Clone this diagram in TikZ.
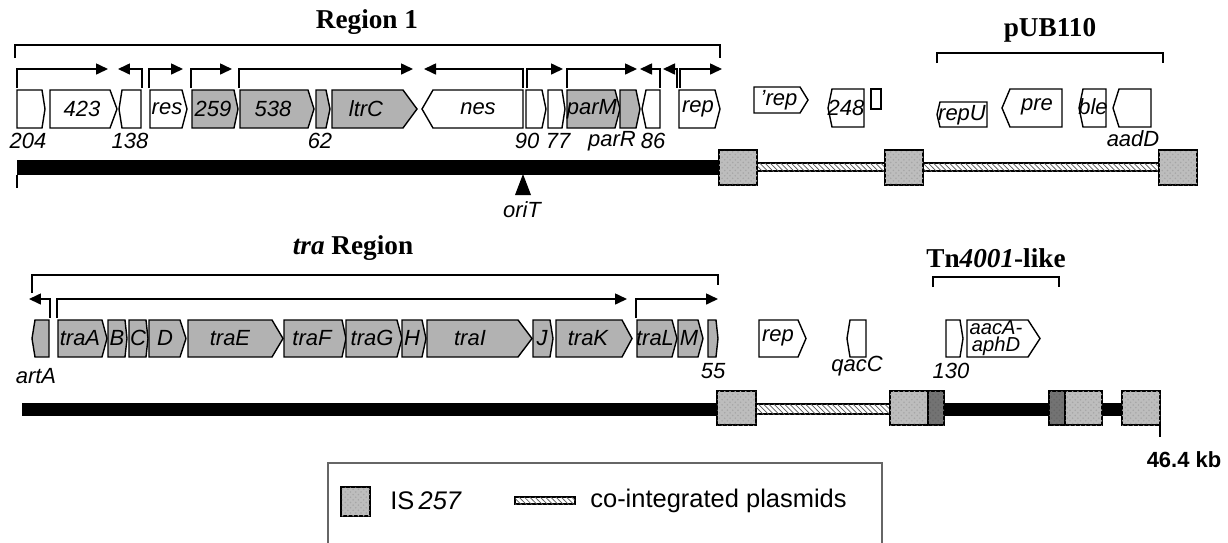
\documentclass[tikz,border=0pt]{standalone}
\usepackage{fontspec}
\setmainfont{Liberation Serif}
\setsansfont{Liberation Sans}
\usetikzlibrary{arrows.meta,patterns}
\definecolor{genegray}{gray}{0.7}
\definecolor{isgray}{gray}{0.74}
\definecolor{isdark}{gray}{0.45}

\begin{document}
\begin{tikzpicture}[
  x=0.02cm,
  y=-0.02cm,
  >={Triangle[length=0.24cm,width=0.22cm]},
  gene/.style={draw, line width=0.8pt, line join=miter},
  glab/.style={font=\sffamily\itshape\fontsize{12.5}{13}\selectfont, inner sep=0pt},
  ttl/.style={font=\bfseries\fontsize{15.5}{17}\selectfont, inner sep=0pt},
  leg/.style={font=\sffamily\fontsize{14.5}{16}\selectfont, inner sep=0pt},
  prom/.style={->, line width=0.9pt},
  brk/.style={line width=1pt},
  isbox/.style={draw, line width=0.6pt, fill=isgray, postaction={pattern=crosshatch dots, pattern color=black!35}},
  isdk/.style={draw, line width=0.6pt, fill=isdark, postaction={pattern=crosshatch dots, pattern color=black!60}},
  coint/.style={draw, line width=0.8pt, fill=white, postaction={pattern=north west lines, pattern color=black!65}}
]
  \useasboundingbox (0,0) rectangle (1228,542);

  \node[ttl] (reg1) at (367,22) {Region 1};
  \node[ttl] (pub) at (1050,30) {pUB110};
  \node[ttl] (tra) at (353,248) {\textit{tra} Region};
  \node[ttl] (tn) at (996,258) {Tn\textit{4001}-like};

  \draw[brk] (15,58) |- (720,45) -- (720,58);
  \draw[brk] (937,63) |- (1163,53) -- (1163,63);
  \draw[brk] (32,293) |- (718,275) -- (718,285);
  \draw[brk] (933,287) |- (1059,277) -- (1059,287);

  \foreach \s/\e in {17/108, 142/118, 149/183, 191/232, 239/413, 523/424, 527/563, 567/637, 660/640, 677/663, 680/722}
    \draw[prom] (\s,88) |- (\e,69);
  \foreach \s/\e in {50/29, 57/627, 636/718}
    \draw[prom] (\s,318) |- (\e,299);

  \foreach \a/\p/\b/\t/\u/\c in {17/42/45/90/128/white, 50/110/117/90/128/white, 150/182/187/90/128/white,
      192/234/238/90/128/genegray, 240/308/314/90/128/genegray, 316/326/330/90/128/genegray,
      332/403/417/90/128/genegray, 526/542/546/90/128/white, 548/562/565/90/128/white,
      567/615/620/90/128/genegray, 620/636/640/90/128/genegray, 679/715/720/90/128/white,
      754/800/808/87/113/white,
      58/102/107/320/357/genegray, 108/125/127/320/357/genegray, 129/146/148/320/357/genegray,
      149/180/186/320/357/genegray, 188/272/283/320/357/genegray, 284/342/346/320/357/genegray,
      346/397/402/320/357/genegray, 402/422/426/320/357/genegray, 427/518/532/320/357/genegray,
      533/550/553/320/357/genegray, 556/622/632/320/357/genegray, 637/672/677/320/357/genegray,
      678/698/703/320/357/genegray, 708/716/718/320/357/genegray,
      759/798/806/320/357/white, 946/960/963/320/357/white, 967/1028/1040/320/357/white}
    \draw[gene, fill=\c] (\a,\t) -- (\p,\t) -- (\b,{(\t+\u)/2}) -- (\p,\u) -- (\a,\u) -- cycle;
  \foreach \a/\p/\b/\t/\u/\c in {119/122/141/90/128/white, 422/433/523/90/128/white, 642/646/660/90/128/white,
      828/832/864/89/127/white, 937/940/987/102/127/white, 1002/1010/1062/89/127/white,
      1079/1083/1106/89/127/white, 1113/1119/1151/89/127/white,
      32/35/49/320/357/genegray, 847/850/866/320/357/white}
    \draw[gene, fill=\c] (\b,\t) -- (\p,\t) -- (\a,{(\t+\u)/2}) -- (\p,\u) -- (\b,\u) -- cycle;
  \draw[gene] (871,89) rectangle (881,109);

  \node[glab] (g204) at (28,141) {204};
  \node[glab] (g423) at (82,109) {423};
  \node[glab] (g138) at (130,141) {138};
  \node[glab] (gres) at (167,109) {res};
  \node[glab] (g259) at (213,109) {259};
  \node[glab] (g538) at (273,109) {538};
  \node[glab] (g62) at (320,141) {62};
  \node[glab] (gltrC) at (366,109) {ltrC};
  \node[glab] (gnes) at (478,109) {nes};
  \node[glab] (g90) at (527,141) {90};
  \node[glab] (g77) at (558,141) {77};
  \node[glab] (gparM) at (592,109) {parM};
  \node[glab] (gparR) at (612,141) {parR};
  \node[glab] (g86) at (653,141) {86};
  \node[glab] (grepA) at (698,109) {rep};
  \node[glab] (grepB) at (779,100) {'rep};
  \node[glab] (g248) at (846,108) {248};
  \node[glab] (grepU) at (962,115) {repU};
  \node[glab] (gpre) at (1037,107) {pre};
  \node[glab] (gble) at (1093,107) {ble};
  \node[glab] (gaadD) at (1133,139) {aadD};

  \fill (17,160) rectangle (719,175);
  \draw[line width=0.6pt] (17,175) -- (17,188);
  \draw[coint] (757,163) rectangle (885,171);
  \draw[coint] (923,163) rectangle (1159,171);
  \draw[isbox] (719,150) rectangle (757,185);
  \draw[isbox] (885,150) rectangle (923,185);
  \draw[isbox] (1159,150) rectangle (1197,185);
  \fill (523,174) -- (531,195) -- (515,195) -- cycle;
  \node[glab] (oriT) at (522,210) {oriT};

  \node[glab] (gartA) at (36,376) {artA};
  \node[glab] (gtraA) at (80,338) {traA};
  \node[glab] (gB) at (117,338) {B};
  \node[glab] (gC) at (138,338) {C};
  \node[glab] (gD) at (165,338) {D};
  \node[glab] (gtraE) at (230,338) {traE};
  \node[glab] (gtraF) at (312,338) {traF};
  \node[glab] (gtraG) at (372,338) {traG};
  \node[glab] (gH) at (412,338) {H};
  \node[glab] (gtraI) at (470,338) {traI};
  \node[glab] (gJ) at (542,338) {J};
  \node[glab] (gtraK) at (588,338) {traK};
  \node[glab] (gtraL) at (655,338) {traL};
  \node[glab] (gM) at (689,338) {M};
  \node[glab] (g55) at (713,371) {55};
  \node[glab] (grepC) at (778,338) {rep};
  \node[glab] (gqacC) at (857,366) {qacC};
  \node[glab] (g130) at (951,371) {130};
  \node[glab, align=center, font=\sffamily\itshape\fontsize{11.5}{10}\selectfont] (gaac) at (996,338) {aacA-\\aphD};

  \fill (22,403) rectangle (717,416);
  \fill (944,403) rectangle (1049,416);
  \fill (1102,403) rectangle (1122,416);
  \draw[coint] (756,404) rectangle (890,414);
  \draw[isbox] (717,391) rectangle (756,425);
  \draw[isbox] (890,391) rectangle (928,425);
  \draw[isdk] (928,391) rectangle (944,425);
  \draw[isdk] (1049,391) rectangle (1065,425);
  \draw[isbox] (1065,391) rectangle (1102,425);
  \draw[isbox] (1122,391) rectangle (1160,425);
  \draw[line width=0.6pt] (1160,425) -- (1160,437);
  \node[font=\sffamily\bfseries\fontsize{12.5}{13}\selectfont, inner sep=0pt] (kb) at (1184,460) {46.4 kb};

  \draw[line width=0.6pt, black!60] (328,545) |- (882,463) -- (882,545);
  \draw[isbox] (341,487) rectangle (370,516);
  \node[leg, anchor=west] (lgis) at (390,501) {IS\,\textit{257}};
  \draw[coint] (515,497) rectangle (575,504);
  \node[leg, anchor=west] (lgco) at (590,501) {co-integrated plasmids};
\end{tikzpicture}
\end{document}
